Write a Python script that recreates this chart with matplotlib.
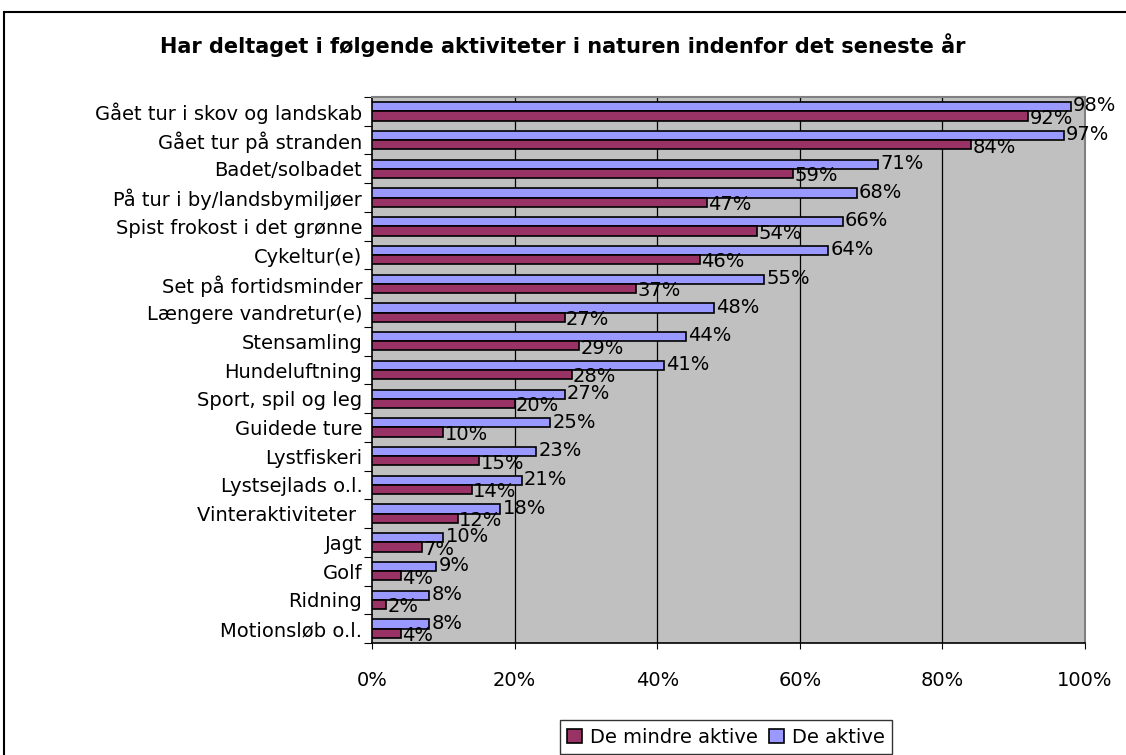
import matplotlib
matplotlib.use("Agg")
import matplotlib.pyplot as plt
import numpy as np
from matplotlib.patches import Rectangle

categories = ["Gået tur i skov og landskab", "Gået tur på stranden", "Badet/solbadet",
              "På tur i by/landsbymiljøer", "Spist frokost i det grønne", "Cykeltur(e)",
              "Set på fortidsminder", "Længere vandretur(e)", "Stensamling", "Hundeluftning",
              "Sport, spil og leg", "Guidede ture", "Lystfiskeri", "Lystsejlads o.l.",
              "Vinteraktiviteter ", "Jagt", "Golf", "Ridning", "Motionsløb o.l."]
mindre_aktive = [92, 84, 59, 47, 54, 46, 37, 27, 29, 28, 20, 10, 15, 14, 12, 7, 4, 2, 4]
aktive = [98, 97, 71, 68, 66, 64, 55, 48, 44, 41, 27, 25, 23, 21, 18, 10, 9, 8, 8]
xticks = [0, 20, 40, 60, 80, 100]
title = "Har deltaget i følgende aktiviteter i naturen indenfor det seneste år"

red = "#993366"
blue = "#9999FF"
fs = 14

plt.rcParams['font.family'] = ['DejaVu Sans']
fig = plt.figure(figsize=(11.26, 7.55), dpi=100)
fig.patches.append(Rectangle((4/1126, -0.1), 1.2, (755-12)/755 + 0.1, transform=fig.transFigure,
                             fill=False, edgecolor="black", linewidth=1.5))
ax = fig.add_axes([372/1126, 1-643/755, (1085-372)/1126, (643-97)/755])
ax.set_facecolor("#C0C0C0")

n = len(categories)
y = np.arange(n)[::-1].astype(float)
bh = 0.32
ax.barh(y + bh/2, aktive, height=bh, color=blue, edgecolor="black", linewidth=1.2, label="De aktive", zorder=3)
ax.barh(y - bh/2, mindre_aktive, height=bh, color=red, edgecolor="black", linewidth=1.2, label="De mindre aktive", zorder=3)

for yi, v in zip(y, aktive):
    ax.text(v + 0.3, yi + bh/2 + 0.03, f"{v}%", fontsize=fs, va="center", ha="left", zorder=5)
for yi, v in zip(y, mindre_aktive):
    ax.text(v + 0.2, yi - bh/2 - 0.08, f"{v}%", fontsize=fs, va="center", ha="left", zorder=5)

ax.set_xlim(0, 100)
ax.set_ylim(-0.5, n - 0.5)
ax.set_xticks(xticks)
ax.set_xticklabels([f"{t}%" for t in xticks], fontsize=fs)
ax.tick_params(axis="x", direction="out", length=4, pad=16)
ax.set_yticks(np.arange(n + 1) - 0.5)
ax.set_yticklabels([])
ax.tick_params(axis="y", which="major", direction="out", length=6)
ax.set_yticks(y, minor=True)
ax.set_yticklabels(categories, minor=True, fontsize=fs)
ax.tick_params(axis="y", which="minor", length=0, pad=7)
for t in xticks[1:-1]:
    ax.axvline(t, color="black", linewidth=0.9, zorder=1)
for side in ["top", "right"]:
    ax.spines[side].set_color("#808080")
    ax.spines[side].set_linewidth(1.5)
for side in ["left", "bottom"]:
    ax.spines[side].set_color("black")
    ax.spines[side].set_linewidth(1.2)

fig.text(563/1126, 1-45/755, title, fontsize=15, fontweight="bold", ha="center", va="center")

handles, labels = ax.get_legend_handles_labels()
leg = fig.legend(handles[::-1], labels[::-1], loc="lower center", bbox_to_anchor=(726/1126, -0.012),
                 ncol=2, fontsize=fs, frameon=True, fancybox=False, edgecolor="black",
                 handlelength=0.75, handleheight=0.75, handletextpad=0.4, columnspacing=0.6,
                 borderpad=0.4)
leg.get_frame().set_linewidth(1.0)

fig.savefig("out.png", dpi=100)
